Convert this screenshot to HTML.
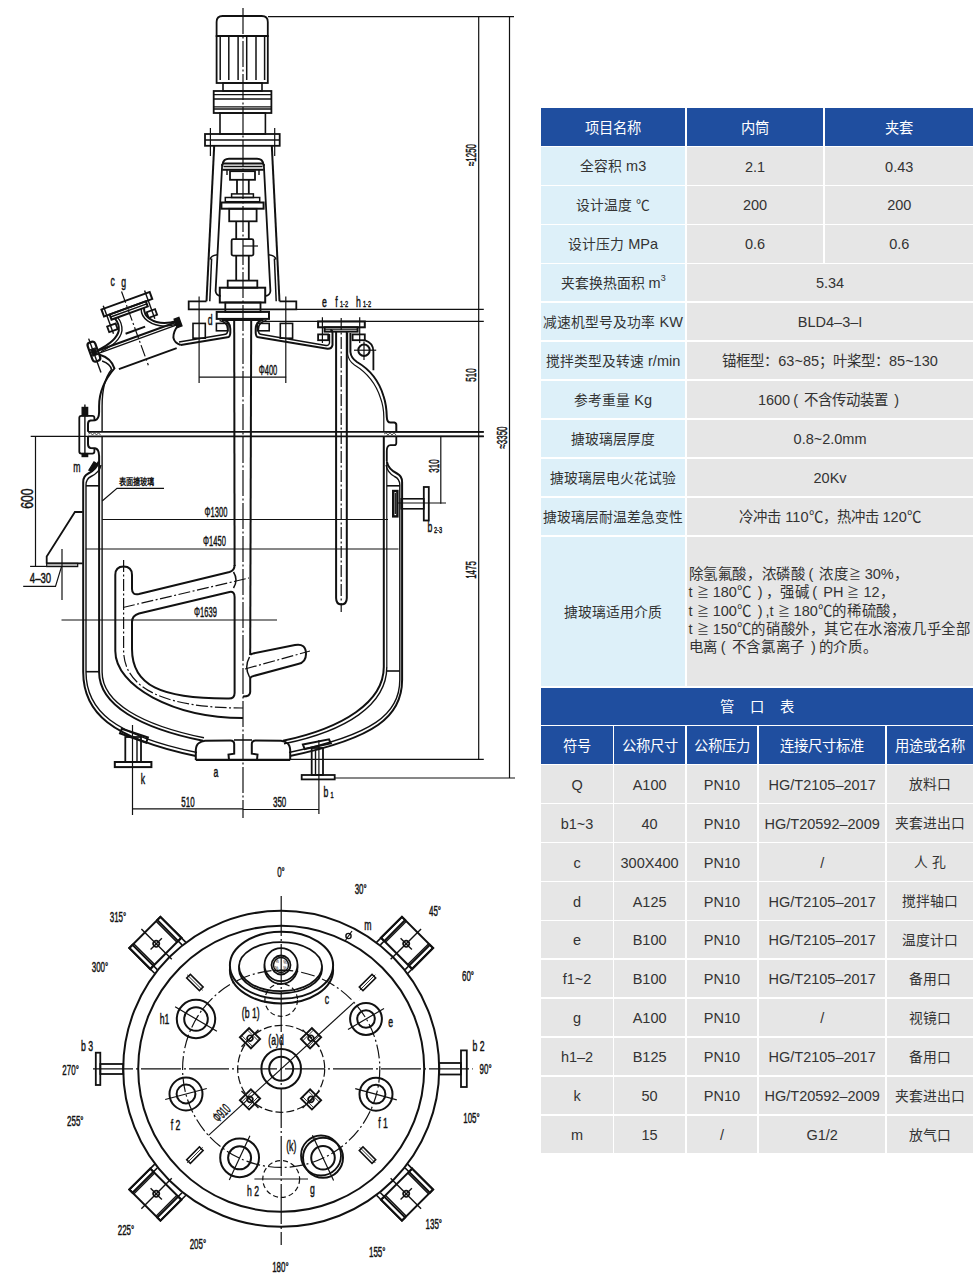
<!DOCTYPE html>
<html lang="zh-CN"><head><meta charset="utf-8">
<style>
html,body{margin:0;padding:0;background:#fff;}
body{width:976px;height:1281px;position:relative;overflow:hidden;font-family:"Liberation Sans",sans-serif;}
.c{position:absolute;display:flex;align-items:center;justify-content:center;text-align:center;white-space:nowrap;line-height:1;}
.z{font-size:13.8px;}
.pl{display:inline-block;width:14px;text-align:left;padding-left:3px;box-sizing:border-box;}
.pr{display:inline-block;width:14px;text-align:right;padding-right:3px;box-sizing:border-box;}
.ge{font-size:12px;}
.c{padding-top:2px;box-sizing:border-box;}
.c sup{font-size:9px;vertical-align:7px;line-height:0;}
.ml .z{letter-spacing:0.6px;}
.ml{position:absolute;left:1.8px;height:18.3px;line-height:18.3px;font-size:14.5px;color:#333;white-space:nowrap;}
svg{position:absolute;left:0;top:0;}
svg text{font-family:"Liberation Sans",sans-serif;fill:#111;}
</style></head><body>
<svg width="976" height="1281" viewBox="0 0 976 1281" stroke="#111" fill="none" stroke-linecap="butt">
<path d="M216.6,36 L216.6,22 Q216.6,16 222.6,16 L261.8,16 Q267.8,16 267.8,22 L267.8,36 Z" stroke-width="1.8" fill="none" />
<rect x="216.6" y="36.0" width="51.2" height="47.0" rx="0" fill="none" stroke-width="1.8" />
<line x1="220.2" y1="37.0" x2="220.2" y2="80.0" stroke-width="1.5" />
<line x1="228.8" y1="37.0" x2="228.8" y2="80.0" stroke-width="1.5" />
<line x1="238.1" y1="37.0" x2="238.1" y2="80.0" stroke-width="1.5" />
<line x1="246.7" y1="37.0" x2="246.7" y2="80.0" stroke-width="1.5" />
<line x1="256.0" y1="37.0" x2="256.0" y2="80.0" stroke-width="1.5" />
<line x1="264.6" y1="37.0" x2="264.6" y2="80.0" stroke-width="1.5" />
<rect x="223.0" y="83.0" width="39.0" height="8.0" rx="0" fill="none" stroke-width="1.6" />
<rect x="213.7" y="91.0" width="57.7" height="22.0" rx="0" fill="none" stroke-width="1.8" />
<line x1="213.7" y1="94.7" x2="271.4" y2="94.7" stroke-width="1.3" />
<line x1="213.7" y1="99.0" x2="271.4" y2="99.0" stroke-width="1.3" />
<line x1="213.7" y1="106.9" x2="271.4" y2="106.9" stroke-width="1.3" />
<line x1="213.7" y1="109.0" x2="271.4" y2="109.0" stroke-width="1.3" />
<rect x="220.0" y="113.0" width="45.4" height="21.0" rx="0" fill="none" stroke-width="1.6" />
<rect x="205.0" y="134.0" width="74.7" height="11.8" rx="0" fill="none" stroke-width="1.8" />
<line x1="205.0" y1="140.0" x2="279.7" y2="140.0" stroke-width="1.3" />
<line x1="210.4" y1="128.0" x2="210.4" y2="156.0" stroke-width="1.2" />
<line x1="274.7" y1="128.0" x2="274.7" y2="156.0" stroke-width="1.2" />
<line x1="214.2" y1="145.8" x2="206.5" y2="301.3" stroke-width="2.0" />
<path d="M222.2,164 L215.6,291 Q216,295.5 220.7,296" stroke-width="1.8" fill="none" />
<path d="M210,259.5 Q211,255.5 217.3,254.8" stroke-width="1.5" fill="none" />
<line x1="211.6" y1="258.5" x2="209.8" y2="301.3" stroke-width="1.5" />
<line x1="271.8" y1="145.8" x2="279.5" y2="301.3" stroke-width="2.0" />
<path d="M263.8,164 L270.4,291 Q270.0,295.5 265.3,296" stroke-width="1.8" fill="none" />
<path d="M276.0,259.5 Q275.0,255.5 268.7,254.8" stroke-width="1.5" fill="none" />
<line x1="274.4" y1="258.5" x2="276.2" y2="301.3" stroke-width="1.5" />
<path d="M222.2,166 L222.6,164 Q223.5,158.75 229,158.75 L257,158.75 Q262.5,158.75 263.4,164 L263.8,166" stroke-width="2.0" fill="none" />
<line x1="222.6" y1="163.4" x2="263.4" y2="163.4" stroke-width="2.0" />
<line x1="222.3" y1="169.7" x2="263.7" y2="169.7" stroke-width="2.0" />
<line x1="223.5" y1="166.5" x2="262.5" y2="166.5" stroke-width="1.4" />
<line x1="227.0" y1="169.7" x2="227.0" y2="175.0" stroke-width="1.4" />
<line x1="259.0" y1="169.7" x2="259.0" y2="175.0" stroke-width="1.4" />
<rect x="230.0" y="171.2" width="25.0" height="8.6" rx="0" fill="none" stroke-width="1.8" />
<line x1="237.0" y1="179.8" x2="237.0" y2="193.9" stroke-width="1.8" />
<line x1="248.8" y1="179.8" x2="248.8" y2="193.9" stroke-width="1.8" />
<rect x="231.6" y="193.9" width="21.8" height="3.6" rx="0" fill="none" stroke-width="1.5" />
<rect x="225.3" y="197.5" width="34.4" height="4.2" rx="0" fill="none" stroke-width="1.5" />
<rect x="221.4" y="202.5" width="42.2" height="6.2" rx="0" fill="none" stroke-width="2.0" />
<rect x="229.2" y="208.8" width="27.4" height="12.5" rx="0" fill="none" stroke-width="1.8" />
<line x1="236.2" y1="221.2" x2="236.2" y2="239.2" stroke-width="1.8" />
<line x1="248.8" y1="221.2" x2="248.8" y2="239.2" stroke-width="1.8" />
<rect x="231.6" y="239.2" width="21.8" height="16.4" rx="1.5" fill="none" stroke-width="1.8" />
<line x1="243.0" y1="246.0" x2="258.0" y2="246.0" stroke-width="1.2" />
<line x1="236.2" y1="255.6" x2="236.2" y2="280.6" stroke-width="1.8" />
<line x1="248.8" y1="255.6" x2="248.8" y2="280.6" stroke-width="1.8" />
<rect x="227.7" y="280.6" width="29.6" height="7.1" rx="0" fill="none" stroke-width="1.8" />
<rect x="219.8" y="287.7" width="45.4" height="14.8" rx="0" fill="none" stroke-width="2.0" />
<path d="M206.5,301.3 L188.7,301.3 L188.7,309.3 L296.3,309.3 L296.3,301.3 L279.5,301.3" stroke-width="1.8" fill="none" />
<rect x="225.3" y="302.5" width="35.2" height="9.4" rx="0" fill="none" stroke-width="1.8" />
<rect x="216.7" y="311.9" width="52.3" height="7.0" rx="0" fill="none" stroke-width="2.0" />
<line x1="221.9" y1="319.8" x2="262.5" y2="319.8" stroke-width="2.4" />
<line x1="199.1" y1="296.4" x2="199.1" y2="383.0" stroke-width="1.2" />
<line x1="285.8" y1="296.4" x2="285.8" y2="383.0" stroke-width="1.2" />
<rect x="193.0" y="323.4" width="12.3" height="14.8" rx="0" fill="none" stroke-width="1.6" />
<rect x="280.3" y="323.4" width="12.3" height="14.8" rx="0" fill="none" stroke-width="1.6" />
<rect x="216.4" y="323.4" width="11.6" height="7.4" rx="0" fill="none" stroke-width="1.6" />
<rect x="257.5" y="323.4" width="11.7" height="7.4" rx="0" fill="none" stroke-width="1.6" />
<line x1="243.0" y1="8.0" x2="243.0" y2="818.0" stroke-width="1.2" stroke-dasharray="26 2.5 2 2.5"/>
<line x1="268.0" y1="16.6" x2="514.0" y2="16.6" stroke-width="1.2" />
<line x1="478.7" y1="16.6" x2="478.7" y2="759.3" stroke-width="1.2" />
<line x1="509.5" y1="16.6" x2="509.5" y2="778.0" stroke-width="1.2" />
<line x1="296.3" y1="309.3" x2="483.8" y2="309.3" stroke-width="1.2" />
<line x1="263.7" y1="321.3" x2="483.8" y2="321.3" stroke-width="1.2" />
<line x1="386.0" y1="432.0" x2="483.8" y2="432.0" stroke-width="1.2" />
<line x1="386.0" y1="436.3" x2="483.8" y2="436.3" stroke-width="1.2" />
<text transform="translate(470.6,155.0) rotate(-90) scale(0.55,1)" font-size="14.5" text-anchor="middle" dominant-baseline="central" stroke="#111" stroke-width="0.45" >≈1250</text>
<text transform="translate(470.0,375.0) rotate(-90) scale(0.55,1)" font-size="14.5" text-anchor="middle" dominant-baseline="central" stroke="#111" stroke-width="0.45" >510</text>
<text transform="translate(501.0,437.5) rotate(-90) scale(0.55,1)" font-size="14.5" text-anchor="middle" dominant-baseline="central" stroke="#111" stroke-width="0.45" >≈3350</text>
<text transform="translate(470.0,570.0) rotate(-90) scale(0.55,1)" font-size="14.5" text-anchor="middle" dominant-baseline="central" stroke="#111" stroke-width="0.45" >1475</text>
<text transform="translate(433.8,466.0) rotate(-90) scale(0.55,1)" font-size="14.5" text-anchor="middle" dominant-baseline="central" stroke="#111" stroke-width="0.45" >310</text>
<path d="M222.5,320 Q230.3,321 230.3,329 L230.3,333 Q230,337.3 227.4,337.3 L180.8,345" stroke-width="2.0" fill="none" />
<path d="M219.5,320.5 Q227.5,322 227.5,329 L227.5,332 Q227,334.5 224,334.5 L179,342" stroke-width="1.4" fill="none" />
<path d="M263.5,320 Q255.7,321 255.7,329 L255.7,333 Q256,337.3 258.6,337.3 L327.5,348.8 Q331.8,349 332.5,345 L332.5,333 Q332.5,330 330.3,330" stroke-width="2.0" fill="none" />
<path d="M266.5,320.5 Q258.5,322 258.5,329 L258.5,332 Q259,334.5 262,334.5 L326,345.5 Q329,345.8 329.5,343 L329.5,334" stroke-width="1.4" fill="none" />
<path d="M99.7,354.8 Q111,358 114.4,368.4 C107,377 99.1,390 99.1,406 L99.1,412 Q99,419.5 95,420.2 L90.5,420.6 Q88,421 88,424 L88,431.8" stroke-width="2.0" fill="none" />
<path d="M102.1,361 Q110.5,364 111.5,369.5 C104.5,378 102.1,391 102.1,406 L102.1,431.8" stroke-width="1.4" fill="none" />
<path d="M88,436.3 L88,444 Q88,447.5 90.5,447.9 L95,448.3 Q99,449 99.1,456 L99.1,462" stroke-width="2.0" fill="none" />
<line x1="102.1" y1="436.3" x2="102.1" y2="672.0" stroke-width="1.4" />
<path d="M94.4,421 L94.4,417.8 Q94.4,415.8 92.4,415.8 L81.3,415.8 Q79.3,415.8 79.3,417.8 L79.3,451.6 Q79.3,453.6 81.3,453.6 L92.4,453.6 Q94.4,453.6 94.4,451.6 L94.4,448" stroke-width="1.8" fill="none" />
<line x1="84.9" y1="404.6" x2="84.9" y2="457.0" stroke-width="1.4" />
<rect x="82.2" y="407.5" width="5.4" height="8.3" rx="0" fill="#111" stroke-width="1.4" />
<rect x="82.2" y="453.6" width="5.4" height="2.9" rx="0" fill="#111" stroke-width="1.4" />
<path d="M350.4,333 L350.4,352 Q351,358 357,362 C369,369 379,381 383.5,396 Q386.5,405 386.8,417 Q387,422.6 390.5,422.6 L394.3,422.6 Q396.3,423 396.3,425 L396.3,431.8" stroke-width="2.0" fill="none" />
<path d="M347.6,333 L347.6,354 Q348.5,361 354.5,365 C366,372 376,384 380.5,398 Q383.8,407 383.8,417 L383.8,431.8" stroke-width="1.2" fill="none" />
<path d="M396.3,436.3 L396.3,443 Q396.3,445.2 394.3,445.2 L390.5,445.2 Q386.8,445.2 386.8,451 L386.8,461" stroke-width="1.8" fill="none" />
<line x1="383.8" y1="436.3" x2="383.8" y2="667.0" stroke-width="2.0" />
<path d="M88.5,434 L90.5,432.8 L92.5,435 L94.5,432.8 L96.5,435 L98.5,432.8 L100.5,435" stroke-width="0.7" fill="none" />
<path d="M384,434 L386,432.8 L388,435 L390,432.8 L392,435 L394,432.8 L396,435" stroke-width="0.7" fill="none" />
<line x1="88.0" y1="431.8" x2="483.8" y2="431.8" stroke-width="1.8" />
<line x1="88.0" y1="436.3" x2="483.8" y2="436.3" stroke-width="1.8" />
<line x1="30.7" y1="436.4" x2="88.0" y2="436.4" stroke-width="1.2" />
<line x1="99.1" y1="462.0" x2="99.1" y2="672.0" stroke-width="2.0" />
<path d="M98.4,461.6 C97.3,468 93.3,471 88.3,473.5 Q83.2,476 83.2,482 L83.2,672 C83.2,712 110,738 195.8,756" stroke-width="2.0" fill="none" />
<path d="M101,465 C100,471 96,474 91,476.5 Q86,479 86,485 L86,672 C86,710 113,735 197,752.5" stroke-width="1.4" fill="none" />
<line x1="86.0" y1="485.8" x2="99.1" y2="485.8" stroke-width="1.6" />
<line x1="86.0" y1="671.7" x2="99.1" y2="671.7" stroke-width="1.6" />
<path d="M89,470 L94,462 L97,464 L92,471 Z" stroke-width="1.4" fill="#111" />
<path d="M386.9,461.6 C388,468 392,471 397,473.5 Q402.1,476 402.1,482 L402.1,680 C402.1,716 376,738 290,756" stroke-width="2.0" fill="none" />
<path d="M386.1,465 C387,471 390,474 394.5,476.5 Q399.8,479 399.8,485 L399.8,680 C399.8,714 373,735 289,752.5" stroke-width="1.4" fill="none" />
<line x1="386.8" y1="485.8" x2="399.8" y2="485.8" stroke-width="1.6" />
<line x1="386.8" y1="671.0" x2="399.8" y2="671.0" stroke-width="1.6" />
<line x1="386.8" y1="461.0" x2="386.8" y2="667.0" stroke-width="1.2" />
<path d="M99.1,672 C99.1,705 140,728 203,740.8" stroke-width="2.0" fill="none" />
<path d="M102.1,672 C102.1,703 142,725 204,737.8" stroke-width="1.4" fill="none" />
<path d="M383.8,667 C383.8,702 343,728 283,740.8" stroke-width="2.0" fill="none" />
<path d="M386.8,667 C386.8,705 346,731 284,743.8" stroke-width="1.4" fill="none" />
<path d="M195.8,760 L195.8,750 Q196,745 199,743 Q201,741.3 205,740.8 L230.3,740.4 Q234.2,740.4 234.2,744 L234.2,753.7 L228.5,754.5 L229,760" stroke-width="2.0" fill="none" />
<path d="M290.2,760 L290.2,750 Q290.0,745 287.0,743 Q285.0,741.3 281.0,740.8 L255.7,740.4 Q251.8,740.4 251.8,744 L251.8,753.7 L257.5,754.5 L257.0,760" stroke-width="2.0" fill="none" />
<line x1="195.8" y1="759.3" x2="483.8" y2="759.3" stroke-width="1.2" />
<line x1="195.8" y1="760.0" x2="290.2" y2="760.0" stroke-width="2.0" />
<line x1="234.0" y1="740.0" x2="252.0" y2="740.0" stroke-width="1.6" />
<line x1="234.2" y1="320.0" x2="234.6" y2="566.0" stroke-width="2.0" />
<line x1="234.6" y1="597.0" x2="234.6" y2="693.0" stroke-width="2.0" />
<line x1="251.2" y1="320.0" x2="250.2" y2="655.0" stroke-width="2.0" />
<line x1="250.2" y1="677.0" x2="250.2" y2="692.0" stroke-width="2.0" />
<path d="M250.2,692 Q250.2,696.5 243,696.5" stroke-width="2.0" fill="none" />
<path d="M233.5,572 Q238.5,580 233.5,588" stroke-width="1.5" fill="none" />
<path d="M115.3,575 Q115.3,566.5 123.6,566.5 Q132,566.5 132,575 L132,589 Q132,595.5 139,594 L229.5,572 Q234.6,570.5 234.6,565" stroke-width="2.0" fill="none" />
<path d="M234.6,597 Q234.6,591 229.5,592 L139,613.5 Q132,615.5 132,622 L132,649 C132,685 160,699 229,698.6 Q234.6,698.5 234.6,693" stroke-width="2.0" fill="none" />
<path d="M115.3,575 L115.3,651 C115.3,686 173,718 243,718" stroke-width="2.0" fill="none" />
<path d="M123.6,560 L123.6,650 C123.6,690 168,708 243,708" stroke-width="1.2" fill="none" stroke-dasharray="12 2.5 2 2.5"/>
<line x1="123.0" y1="607.5" x2="249.0" y2="578.0" stroke-width="1.2" stroke-dasharray="12 2.5 2 2.5"/>
<path d="M250.2,655 Q251,653.8 253,653.5 L295,645 Q306,643 306,654 Q306,662.5 298,664 L253.5,676 Q251,676.5 250.2,678" stroke-width="2.0" fill="none" />
<line x1="245.0" y1="669.0" x2="310.0" y2="651.0" stroke-width="1.2" stroke-dasharray="12 2.5 2 2.5"/>
<path d="M249.5,657 Q244,667 249.5,677" stroke-width="1.5" fill="none" />
<line x1="336.1" y1="331.0" x2="336.1" y2="598.0" stroke-width="2.0" />
<line x1="346.8" y1="331.0" x2="346.8" y2="598.0" stroke-width="2.0" />
<path d="M336.1,598 Q336.1,604.4 341.4,604.4 Q346.8,604.4 346.8,598" stroke-width="2.0" fill="none" />
<line x1="341.2" y1="318.0" x2="341.2" y2="612.0" stroke-width="1.2" stroke-dasharray="12 2.5 2 2.5"/>
<rect x="318.1" y="321.5" width="46.7" height="5.8" rx="0" fill="none" stroke-width="2.0" />
<rect x="324.6" y="327.3" width="33.0" height="4.3" rx="0" fill="none" stroke-width="2.0" />
<line x1="324.6" y1="329.5" x2="357.6" y2="329.5" stroke-width="0.8" />
<rect x="318.1" y="334.4" width="10.1" height="5.8" rx="0" fill="none" stroke-width="1.8" />
<rect x="352.6" y="334.4" width="12.2" height="5.8" rx="0" fill="none" stroke-width="1.8" />
<line x1="322.4" y1="317.2" x2="322.4" y2="343.0" stroke-width="1.2" />
<line x1="359.7" y1="317.2" x2="359.7" y2="343.0" stroke-width="1.2" />
<path d="M364.8,340.2 Q373.4,343 373.4,351.6 L373.4,370.3" stroke-width="1.8" fill="none" />
<circle cx="364.0" cy="350.2" r="5.7" stroke-width="2.0" fill="none" />
<line x1="354.0" y1="350.2" x2="376.2" y2="350.2" stroke-width="1.2" />
<line x1="364.0" y1="341.6" x2="364.0" y2="360.0" stroke-width="1.2" />
<text transform="translate(324.5,301.7) scale(0.6,1)" font-size="14.5" text-anchor="middle" dominant-baseline="central" stroke="#111" stroke-width="0.45" >e</text>
<text transform="translate(336.5,301.7) scale(0.6,1)" font-size="14.5" text-anchor="middle" dominant-baseline="central" stroke="#111" stroke-width="0.45" >f</text>
<text transform="translate(344.0,303.5) scale(0.62,1)" font-size="9" text-anchor="middle" dominant-baseline="central" stroke="#111" stroke-width="0.45" >1-2</text>
<text transform="translate(358.5,301.7) scale(0.6,1)" font-size="14.5" text-anchor="middle" dominant-baseline="central" stroke="#111" stroke-width="0.45" >h</text>
<text transform="translate(367.0,303.5) scale(0.62,1)" font-size="9" text-anchor="middle" dominant-baseline="central" stroke="#111" stroke-width="0.45" >1-2</text>
<text transform="translate(210.2,319.8) scale(0.6,1)" font-size="14.5" text-anchor="middle" dominant-baseline="central" stroke="#111" stroke-width="0.45" >d</text>
<line x1="199.1" y1="377.2" x2="286.2" y2="377.2" stroke-width="1.2" />
<text transform="translate(268.0,369.8) scale(0.52,1)" font-size="14.5" text-anchor="middle" dominant-baseline="central" stroke="#111" stroke-width="0.45" >Φ400</text>
<g transform="translate(137.6,335.7) rotate(-20)">
<rect x="-25.0" y="-37.0" width="51.3" height="7.5" rx="0" fill="none" stroke-width="2.0" />
<rect x="-19.0" y="-29.5" width="38.5" height="5.5" rx="0" fill="none" stroke-width="2.0" />
<line x1="-19.0" y1="-26.8" x2="19.5" y2="-26.8" stroke-width="1.4" />
<rect x="-25.5" y="-19.0" width="9.0" height="6.0" rx="0" fill="none" stroke-width="1.8" />
<rect x="16.5" y="-19.0" width="9.0" height="6.0" rx="0" fill="none" stroke-width="1.8" />
<line x1="-22.0" y1="-40.0" x2="-22.0" y2="-10.0" stroke-width="1.4" />
<line x1="22.0" y1="-40.0" x2="22.0" y2="-10.0" stroke-width="1.4" />
<path d="M-15.5,-24 Q-13,-17 -16,-11 Q-22,-2 -42,0" stroke-width="2.0" fill="none" />
<path d="M-12.5,-24 Q-10,-17 -13,-10 Q-19,0.5 -40,2.5" stroke-width="1.4" fill="none" />
<path d="M15.5,-24 Q13,-17 17,-12 Q25,-1 42,-0.5" stroke-width="2.0" fill="none" />
<path d="M12.5,-24 Q10,-17 14.5,-10.5 Q23,1.5 40,2.5" stroke-width="1.4" fill="none" />
<line x1="-42.0" y1="0.5" x2="42.0" y2="0.5" stroke-width="2.0" />
<line x1="-42.0" y1="3.2" x2="42.0" y2="3.2" stroke-width="1.4" />
<rect x="40.0" y="-3.0" width="5.0" height="9.0" rx="0" fill="#111" stroke-width="1.4" />
<path d="M42,4 Q35,8 33,14 Q32,19 37.4,23.5" stroke-width="2.0" fill="none" />
<line x1="0.0" y1="-47.0" x2="0.0" y2="31.4" stroke-width="1.2" stroke-dasharray="12 2.5 2 2.5"/>
<line x1="-10.6" y1="-6.0" x2="10.2" y2="-6.0" stroke-width="2.0" />
<line x1="-29.0" y1="25.0" x2="32.5" y2="25.0" stroke-width="2.0" />
<rect x="-50.5" y="-10.0" width="8.0" height="20.0" rx="3" fill="#fff" stroke-width="2.2" />
<rect x="-49.0" y="-3.0" width="5.0" height="7.0" rx="0" fill="#111" stroke-width="1" />
<line x1="-47.0" y1="-14.0" x2="-47.0" y2="22.0" stroke-width="1.4" />
</g>
<text transform="translate(112.6,281.0) scale(0.6,1)" font-size="14.5" text-anchor="middle" dominant-baseline="central" stroke="#111" stroke-width="0.45" >c</text>
<text transform="translate(123.6,282.0) scale(0.6,1)" font-size="14.5" text-anchor="middle" dominant-baseline="central" stroke="#111" stroke-width="0.45" >g</text>
<text transform="translate(76.8,467.0) scale(0.6,1)" font-size="14.5" text-anchor="middle" dominant-baseline="central" stroke="#111" stroke-width="0.45" >m</text>
<line x1="35.5" y1="436.4" x2="35.5" y2="566.4" stroke-width="1.2" />
<line x1="30.1" y1="566.4" x2="46.7" y2="566.4" stroke-width="1.2" />
<text transform="translate(27.0,498.6) rotate(-90) scale(0.72,1)" font-size="17" text-anchor="middle" dominant-baseline="central" stroke="#111" stroke-width="0.45" >600</text>
<path d="M82.7,512 L74.9,512 L46.7,556.4 L46.7,563.8" stroke-width="1.8" fill="none" />
<line x1="46.7" y1="563.3" x2="82.7" y2="563.3" stroke-width="1.8" />
<rect x="46.7" y="563.3" width="31.0" height="3.3" rx="0" fill="#aaa" stroke-width="1.2" />
<line x1="62.0" y1="549.0" x2="62.0" y2="600.0" stroke-width="1.2" />
<text transform="translate(40.5,578.5) scale(0.66,1)" font-size="14.5" text-anchor="middle" dominant-baseline="central" stroke="#111" stroke-width="0.45" >4–30</text>
<path d="M23.2,586.4 L55.5,586.4 L61.5,566.6" stroke-width="1.2" fill="none" />
<line x1="102.2" y1="519.5" x2="388.0" y2="519.5" stroke-width="1.2" />
<line x1="85.8" y1="549.0" x2="398.5" y2="549.0" stroke-width="1.2" />
<line x1="61.5" y1="620.0" x2="277.0" y2="620.0" stroke-width="1.2" />
<text transform="translate(216.0,512.0) scale(0.52,1)" font-size="14.5" text-anchor="middle" dominant-baseline="central" stroke="#111" stroke-width="0.45" >Φ1300</text>
<text transform="translate(214.5,541.0) scale(0.52,1)" font-size="14.5" text-anchor="middle" dominant-baseline="central" stroke="#111" stroke-width="0.45" >Φ1450</text>
<text transform="translate(205.5,612.0) scale(0.52,1)" font-size="14.5" text-anchor="middle" dominant-baseline="central" stroke="#111" stroke-width="0.45" >Φ1639</text>
<path d="M102.2,501 L117,488.4 L164,488.4" stroke-width="1.2" fill="none" />
<text transform="translate(136.5,482) scale(0.8,1)" font-size="9" text-anchor="middle" dominant-baseline="central" stroke="none" font-weight="bold">表面搪玻璃</text>
<rect x="393.2" y="491.0" width="4.2" height="25.4" rx="0" fill="none" stroke-width="2.4" />
<line x1="395.3" y1="493.0" x2="395.3" y2="514.0" stroke-width="1.2" />
<rect x="401.2" y="498.8" width="22.6" height="10.0" rx="0" fill="none" stroke-width="1.6" />
<rect x="423.8" y="487.0" width="5.0" height="33.5" rx="0" fill="none" stroke-width="1.8" />
<line x1="440.8" y1="436.3" x2="440.8" y2="503.8" stroke-width="1.2" />
<line x1="398.0" y1="503.0" x2="446.0" y2="503.0" stroke-width="1.2" />
<text transform="translate(430.0,527.5) scale(0.6,1)" font-size="14.5" text-anchor="middle" dominant-baseline="central" stroke="#111" stroke-width="0.45" >b</text>
<text transform="translate(438.0,530.0) scale(0.62,1)" font-size="9" text-anchor="middle" dominant-baseline="central" stroke="#111" stroke-width="0.45" >2-3</text>
<path d="M121.8,728.8 L147.9,737.5 L146.2,742.8 L120,733.3 Z" stroke-width="2.0" fill="none" />
<rect x="125.3" y="737.0" width="15.7" height="25.0" rx="0" fill="none" stroke-width="1.8" />
<line x1="137.0" y1="740.0" x2="137.0" y2="762.0" stroke-width="1.4" />
<rect x="114.8" y="762.0" width="36.6" height="5.1" rx="0" fill="none" stroke-width="2.0" />
<line x1="132.5" y1="725.0" x2="132.5" y2="815.0" stroke-width="1.2" />
<line x1="132.5" y1="808.8" x2="243.0" y2="808.8" stroke-width="1.2" />
<text transform="translate(143.0,779.0) scale(0.6,1)" font-size="14.5" text-anchor="middle" dominant-baseline="central" stroke="#111" stroke-width="0.45" >k</text>
<text transform="translate(216.0,772.0) scale(0.6,1)" font-size="14.5" text-anchor="middle" dominant-baseline="central" stroke="#111" stroke-width="0.45" >a</text>
<text transform="translate(188.0,801.0) scale(0.55,1)" font-size="14.5" text-anchor="middle" dominant-baseline="central" stroke="#111" stroke-width="0.45" >510</text>
<path d="M302.9,744.5 L329,739.3 L330.8,743.4 L304.7,749 Z" stroke-width="2.0" fill="none" />
<rect x="311.7" y="748.0" width="11.3" height="27.0" rx="0" fill="none" stroke-width="1.8" />
<line x1="315.5" y1="750.0" x2="315.5" y2="775.0" stroke-width="1.4" />
<rect x="301.7" y="775.0" width="33.0" height="4.4" rx="0" fill="none" stroke-width="1.8" />
<line x1="334.7" y1="778.0" x2="515.0" y2="778.0" stroke-width="1.2" />
<line x1="318.9" y1="740.0" x2="318.9" y2="814.0" stroke-width="1.2" />
<line x1="243.0" y1="809.5" x2="318.9" y2="809.5" stroke-width="1.2" />
<text transform="translate(279.6,801.0) scale(0.55,1)" font-size="14.5" text-anchor="middle" dominant-baseline="central" stroke="#111" stroke-width="0.45" >350</text>
<text transform="translate(326.0,792.0) scale(0.6,1)" font-size="14.5" text-anchor="middle" dominant-baseline="central" stroke="#111" stroke-width="0.45" >b</text>
<text transform="translate(332.0,795.0) scale(0.62,1)" font-size="9" text-anchor="middle" dominant-baseline="central" stroke="#111" stroke-width="0.45" >1</text>

<circle cx="281.2" cy="1068.8" r="158.0" stroke-width="2.0" fill="none" />
<circle cx="281.2" cy="1068.8" r="143.0" stroke-width="2.0" fill="none" />
<ellipse cx="281.5" cy="970.0" rx="51.6" ry="33.5" stroke-width="2.0" fill="none" />
<ellipse cx="281.5" cy="965.3" rx="51.6" ry="33.5" stroke-width="2.0" fill="#fff" />
<ellipse cx="280.5" cy="969.0" rx="41.5" ry="24.5" stroke-width="1.8" fill="none" />
<ellipse cx="280.5" cy="966.6" rx="41.5" ry="24.5" stroke-width="1.8" fill="#fff" />
<circle cx="281.0" cy="967.5" r="16.5" stroke-width="1.8" fill="#fff" />
<circle cx="281.0" cy="964.7" r="16.5" stroke-width="1.8" fill="#fff" />
<circle cx="281.0" cy="965.0" r="9.5" stroke-width="1.8" fill="none" />
<circle cx="281.0" cy="965.0" r="7.5" stroke-width="1.4" fill="none" />
<line x1="274.0" y1="970.5" x2="288.0" y2="970.5" stroke-width="1.4" />
<text transform="translate(277,961) scale(0.8,1)" font-size="5" text-anchor="middle" dominant-baseline="central" stroke="none">%</text><text transform="translate(285,962.5) scale(0.8,1)" font-size="5" text-anchor="middle" dominant-baseline="central" stroke="none">%</text><text transform="translate(276.5,968) scale(0.8,1)" font-size="5" text-anchor="middle" dominant-baseline="central" stroke="none">%</text><text transform="translate(285,968.5) scale(0.8,1)" font-size="5" text-anchor="middle" dominant-baseline="central" stroke="none">%</text><line x1="281.2" y1="896.0" x2="281.2" y2="1245.0" stroke-width="1.2" stroke-dasharray="40 3 2 3"/>
<line x1="93.0" y1="1068.8" x2="472.7" y2="1068.8" stroke-width="1.2" stroke-dasharray="40 3 2 3"/>
<circle cx="281.2" cy="1068.8" r="98.6" stroke-width="1.2" fill="none" stroke-dasharray="14 3 2 3"/>
<circle cx="281.2" cy="1068.8" r="43.5" stroke-width="1.2" fill="none" stroke-dasharray="8 3"/>
<circle cx="281.2" cy="1000.0" r="16.3" stroke-width="1.2" fill="none" stroke-dasharray="5 3"/>
<circle cx="281.2" cy="1179.0" r="18.4" stroke-width="1.2" fill="none" stroke-dasharray="5 3"/>
<line x1="254.4" y1="1179.0" x2="308.0" y2="1179.0" stroke-width="1.2" />
<circle cx="196.0" cy="1019.0" r="19.2" stroke-width="2.0" fill="none" />
<circle cx="196.0" cy="1019.0" r="11.8" stroke-width="2.0" fill="none" />
<line x1="216.9" y1="1031.2" x2="175.1" y2="1006.8" stroke-width="1.2" />
<circle cx="366.0" cy="1019.0" r="15.9" stroke-width="2.0" fill="none" />
<circle cx="366.0" cy="1019.0" r="8.8" stroke-width="2.0" fill="none" />
<line x1="348.0" y1="1029.6" x2="384.0" y2="1008.4" stroke-width="1.2" />
<circle cx="186.0" cy="1094.0" r="16.5" stroke-width="2.0" fill="none" />
<circle cx="186.0" cy="1094.0" r="9.4" stroke-width="2.0" fill="none" />
<line x1="206.8" y1="1088.5" x2="165.2" y2="1099.5" stroke-width="1.2" />
<circle cx="376.0" cy="1094.2" r="16.5" stroke-width="2.0" fill="none" />
<circle cx="376.0" cy="1094.2" r="9.4" stroke-width="2.0" fill="none" />
<line x1="355.2" y1="1088.6" x2="396.8" y2="1099.8" stroke-width="1.2" />
<circle cx="239.6" cy="1157.8" r="19.4" stroke-width="2.0" fill="none" />
<circle cx="239.6" cy="1157.8" r="11.5" stroke-width="2.0" fill="none" />
<line x1="249.9" y1="1135.7" x2="229.3" y2="1179.9" stroke-width="1.2" />
<circle cx="323.0" cy="1157.8" r="20.0" stroke-width="2.0" fill="none" />
<circle cx="323.0" cy="1157.8" r="11.8" stroke-width="2.0" fill="none" />
<line x1="312.4" y1="1135.2" x2="333.6" y2="1180.4" stroke-width="1.2" />
<circle cx="321.0" cy="1155.5" r="20.0" stroke-width="1.8" fill="none" />
<circle cx="281.2" cy="1068.8" r="19.8" stroke-width="2.0" fill="none" />
<circle cx="281.2" cy="1068.8" r="12.0" stroke-width="2.0" fill="none" />
<line x1="208.5" y1="1135.4" x2="353.7" y2="1002.6" stroke-width="1.2" />
<text transform="translate(221.4,1113.0) rotate(-45) scale(0.52,1)" font-size="14.5" text-anchor="middle" dominant-baseline="central" stroke="#111" stroke-width="0.45" >Φ910</text>
<g transform="translate(250,1038.2) rotate(45)"><rect x="-7.8" y="-6.5" width="15.6" height="13.0" rx="0" fill="none" stroke-width="1.9" />
<line x1="-7.8" y1="-4.0" x2="7.8" y2="-4.0" stroke-width="0.8" />
<line x1="-7.8" y1="4.0" x2="7.8" y2="4.0" stroke-width="0.8" />
<circle cx="0.0" cy="0.0" r="2.8" stroke-width="1.6" fill="none" />
<line x1="0.0" y1="-12.0" x2="0.0" y2="12.0" stroke-width="1.4" />
</g>
<g transform="translate(311,1038.2) rotate(-45)"><rect x="-7.8" y="-6.5" width="15.6" height="13.0" rx="0" fill="none" stroke-width="1.9" />
<line x1="-7.8" y1="-4.0" x2="7.8" y2="-4.0" stroke-width="0.8" />
<line x1="-7.8" y1="4.0" x2="7.8" y2="4.0" stroke-width="0.8" />
<circle cx="0.0" cy="0.0" r="2.8" stroke-width="1.6" fill="none" />
<line x1="0.0" y1="-12.0" x2="0.0" y2="12.0" stroke-width="1.4" />
</g>
<g transform="translate(250,1099.4) rotate(-45)"><rect x="-7.8" y="-6.5" width="15.6" height="13.0" rx="0" fill="none" stroke-width="1.9" />
<line x1="-7.8" y1="-4.0" x2="7.8" y2="-4.0" stroke-width="0.8" />
<line x1="-7.8" y1="4.0" x2="7.8" y2="4.0" stroke-width="0.8" />
<circle cx="0.0" cy="0.0" r="2.8" stroke-width="1.6" fill="none" />
<line x1="0.0" y1="-12.0" x2="0.0" y2="12.0" stroke-width="1.4" />
</g>
<g transform="translate(311,1099.4) rotate(45)"><rect x="-7.8" y="-6.5" width="15.6" height="13.0" rx="0" fill="none" stroke-width="1.9" />
<line x1="-7.8" y1="-4.0" x2="7.8" y2="-4.0" stroke-width="0.8" />
<line x1="-7.8" y1="4.0" x2="7.8" y2="4.0" stroke-width="0.8" />
<circle cx="0.0" cy="0.0" r="2.8" stroke-width="1.6" fill="none" />
<line x1="0.0" y1="-12.0" x2="0.0" y2="12.0" stroke-width="1.4" />
</g>
<g transform="translate(367.5,982.5) rotate(45)"><rect x="-2.6" y="-9.0" width="5.2" height="18.0" rx="0" fill="none" stroke-width="1.6" />
<line x1="0.0" y1="-11.0" x2="0.0" y2="11.0" stroke-width="0.8" />
</g>
<g transform="translate(367.5,1155.1) rotate(135)"><rect x="-2.6" y="-9.0" width="5.2" height="18.0" rx="0" fill="none" stroke-width="1.6" />
<line x1="0.0" y1="-11.0" x2="0.0" y2="11.0" stroke-width="0.8" />
</g>
<g transform="translate(194.9,1155.1) rotate(225)"><rect x="-2.6" y="-9.0" width="5.2" height="18.0" rx="0" fill="none" stroke-width="1.6" />
<line x1="0.0" y1="-11.0" x2="0.0" y2="11.0" stroke-width="0.8" />
</g>
<g transform="translate(194.9,982.5) rotate(315)"><rect x="-2.6" y="-9.0" width="5.2" height="18.0" rx="0" fill="none" stroke-width="1.6" />
<line x1="0.0" y1="-11.0" x2="0.0" y2="11.0" stroke-width="0.8" />
</g>
<g transform="translate(406.2,943.8) rotate(45)"><rect x="-22.0" y="-16.0" width="44.0" height="29.6" rx="0" fill="#fff" stroke-width="2.0" />
<rect x="-22.0" y="-16.0" width="4.5" height="29.6" rx="0" fill="none" stroke-width="2.0" />
<rect x="17.5" y="-16.0" width="4.5" height="29.6" rx="0" fill="none" stroke-width="2.0" />
<line x1="-15.8" y1="-16.0" x2="-15.8" y2="13.6" stroke-width="1.4" />
<line x1="15.8" y1="-16.0" x2="15.8" y2="13.6" stroke-width="1.4" />
<path d="M-22,13.6 L-22,20 M22,13.6 L22,20 M-17.5,13.6 L-17.5,19 M17.5,13.6 L17.5,19" stroke-width="1.6" fill="none" />
<circle cx="0.0" cy="0.0" r="3.0" stroke-width="1.6" fill="none" />
<line x1="0.0" y1="-21.0" x2="0.0" y2="22.0" stroke-width="1.4" />
<line x1="-8.0" y1="0.0" x2="8.0" y2="0.0" stroke-width="1.4" />
</g>
<g transform="translate(406.2,1193.8) rotate(135)"><rect x="-22.0" y="-16.0" width="44.0" height="29.6" rx="0" fill="#fff" stroke-width="2.0" />
<rect x="-22.0" y="-16.0" width="4.5" height="29.6" rx="0" fill="none" stroke-width="2.0" />
<rect x="17.5" y="-16.0" width="4.5" height="29.6" rx="0" fill="none" stroke-width="2.0" />
<line x1="-15.8" y1="-16.0" x2="-15.8" y2="13.6" stroke-width="1.4" />
<line x1="15.8" y1="-16.0" x2="15.8" y2="13.6" stroke-width="1.4" />
<path d="M-22,13.6 L-22,20 M22,13.6 L22,20 M-17.5,13.6 L-17.5,19 M17.5,13.6 L17.5,19" stroke-width="1.6" fill="none" />
<circle cx="0.0" cy="0.0" r="3.0" stroke-width="1.6" fill="none" />
<line x1="0.0" y1="-21.0" x2="0.0" y2="22.0" stroke-width="1.4" />
<line x1="-8.0" y1="0.0" x2="8.0" y2="0.0" stroke-width="1.4" />
</g>
<g transform="translate(156.2,1193.8) rotate(225)"><rect x="-22.0" y="-16.0" width="44.0" height="29.6" rx="0" fill="#fff" stroke-width="2.0" />
<rect x="-22.0" y="-16.0" width="4.5" height="29.6" rx="0" fill="none" stroke-width="2.0" />
<rect x="17.5" y="-16.0" width="4.5" height="29.6" rx="0" fill="none" stroke-width="2.0" />
<line x1="-15.8" y1="-16.0" x2="-15.8" y2="13.6" stroke-width="1.4" />
<line x1="15.8" y1="-16.0" x2="15.8" y2="13.6" stroke-width="1.4" />
<path d="M-22,13.6 L-22,20 M22,13.6 L22,20 M-17.5,13.6 L-17.5,19 M17.5,13.6 L17.5,19" stroke-width="1.6" fill="none" />
<circle cx="0.0" cy="0.0" r="3.0" stroke-width="1.6" fill="none" />
<line x1="0.0" y1="-21.0" x2="0.0" y2="22.0" stroke-width="1.4" />
<line x1="-8.0" y1="0.0" x2="8.0" y2="0.0" stroke-width="1.4" />
</g>
<g transform="translate(156.2,943.8) rotate(315)"><rect x="-22.0" y="-16.0" width="44.0" height="29.6" rx="0" fill="#fff" stroke-width="2.0" />
<rect x="-22.0" y="-16.0" width="4.5" height="29.6" rx="0" fill="none" stroke-width="2.0" />
<rect x="17.5" y="-16.0" width="4.5" height="29.6" rx="0" fill="none" stroke-width="2.0" />
<line x1="-15.8" y1="-16.0" x2="-15.8" y2="13.6" stroke-width="1.4" />
<line x1="15.8" y1="-16.0" x2="15.8" y2="13.6" stroke-width="1.4" />
<path d="M-22,13.6 L-22,20 M22,13.6 L22,20 M-17.5,13.6 L-17.5,19 M17.5,13.6 L17.5,19" stroke-width="1.6" fill="none" />
<circle cx="0.0" cy="0.0" r="3.0" stroke-width="1.6" fill="none" />
<line x1="0.0" y1="-21.0" x2="0.0" y2="22.0" stroke-width="1.4" />
<line x1="-8.0" y1="0.0" x2="8.0" y2="0.0" stroke-width="1.4" />
</g>
<rect x="100.3" y="1064.0" width="22.9" height="10.0" rx="0" fill="none" stroke-width="1.8" />
<rect x="95.8" y="1052.7" width="4.5" height="32.3" rx="0" fill="none" stroke-width="1.8" />
<rect x="439.2" y="1063.0" width="21.8" height="11.5" rx="0" fill="none" stroke-width="1.8" />
<rect x="461.0" y="1050.4" width="5.8" height="36.6" rx="0" fill="none" stroke-width="1.8" />
<circle cx="348.5" cy="936.0" r="2.6" stroke-width="1.4" fill="none" />
<line x1="345.0" y1="941.0" x2="352.0" y2="931.0" stroke-width="1.2" />
<text transform="translate(281.0,871.0) scale(0.55,1)" font-size="14.5" text-anchor="middle" dominant-baseline="central" stroke="#111" stroke-width="0.45" >0°</text>
<text transform="translate(360.7,888.7) scale(0.55,1)" font-size="14.5" text-anchor="middle" dominant-baseline="central" stroke="#111" stroke-width="0.45" >30°</text>
<text transform="translate(435.0,910.7) scale(0.55,1)" font-size="14.5" text-anchor="middle" dominant-baseline="central" stroke="#111" stroke-width="0.45" >45°</text>
<text transform="translate(468.0,975.5) scale(0.55,1)" font-size="14.5" text-anchor="middle" dominant-baseline="central" stroke="#111" stroke-width="0.45" >60°</text>
<text transform="translate(485.6,1068.6) scale(0.55,1)" font-size="14.5" text-anchor="middle" dominant-baseline="central" stroke="#111" stroke-width="0.45" >90°</text>
<text transform="translate(471.5,1117.7) scale(0.55,1)" font-size="14.5" text-anchor="middle" dominant-baseline="central" stroke="#111" stroke-width="0.45" >105°</text>
<text transform="translate(433.8,1223.8) scale(0.55,1)" font-size="14.5" text-anchor="middle" dominant-baseline="central" stroke="#111" stroke-width="0.45" >135°</text>
<text transform="translate(377.2,1251.0) scale(0.55,1)" font-size="14.5" text-anchor="middle" dominant-baseline="central" stroke="#111" stroke-width="0.45" >155°</text>
<text transform="translate(280.4,1266.0) scale(0.55,1)" font-size="14.5" text-anchor="middle" dominant-baseline="central" stroke="#111" stroke-width="0.45" >180°</text>
<text transform="translate(197.9,1243.8) scale(0.55,1)" font-size="14.5" text-anchor="middle" dominant-baseline="central" stroke="#111" stroke-width="0.45" >205°</text>
<text transform="translate(126.0,1229.7) scale(0.55,1)" font-size="14.5" text-anchor="middle" dominant-baseline="central" stroke="#111" stroke-width="0.45" >225°</text>
<text transform="translate(75.3,1120.0) scale(0.55,1)" font-size="14.5" text-anchor="middle" dominant-baseline="central" stroke="#111" stroke-width="0.45" >255°</text>
<text transform="translate(70.6,1069.4) scale(0.55,1)" font-size="14.5" text-anchor="middle" dominant-baseline="central" stroke="#111" stroke-width="0.45" >270°</text>
<text transform="translate(100.0,966.0) scale(0.55,1)" font-size="14.5" text-anchor="middle" dominant-baseline="central" stroke="#111" stroke-width="0.45" >300°</text>
<text transform="translate(118.0,916.0) scale(0.55,1)" font-size="14.5" text-anchor="middle" dominant-baseline="central" stroke="#111" stroke-width="0.45" >315°</text>
<text transform="translate(367.8,924.8) scale(0.6,1)" font-size="14.5" text-anchor="middle" dominant-baseline="central" stroke="#111" stroke-width="0.45" >m</text>
<text transform="translate(327.0,999.5) scale(0.6,1)" font-size="14.5" text-anchor="middle" dominant-baseline="central" stroke="#111" stroke-width="0.45" >c</text>
<text transform="translate(390.7,1022.0) scale(0.6,1)" font-size="14.5" text-anchor="middle" dominant-baseline="central" stroke="#111" stroke-width="0.45" >e</text>
<text transform="translate(164.5,1019.0) scale(0.6,1)" font-size="14.5" text-anchor="middle" dominant-baseline="central" stroke="#111" stroke-width="0.45" >h1</text>
<text transform="translate(87.0,1046.0) scale(0.6,1)" font-size="14.5" text-anchor="middle" dominant-baseline="central" stroke="#111" stroke-width="0.45" >b 3</text>
<text transform="translate(478.6,1046.0) scale(0.6,1)" font-size="14.5" text-anchor="middle" dominant-baseline="central" stroke="#111" stroke-width="0.45" >b 2</text>
<text transform="translate(250.7,1013.0) scale(0.6,1)" font-size="14.5" text-anchor="middle" dominant-baseline="central" stroke="#111" stroke-width="0.45" >(b 1)</text>
<text transform="translate(276.0,1040.0) scale(0.6,1)" font-size="14.5" text-anchor="middle" dominant-baseline="central" stroke="#111" stroke-width="0.45" >(a)d</text>
<text transform="translate(175.5,1124.8) scale(0.6,1)" font-size="14.5" text-anchor="middle" dominant-baseline="central" stroke="#111" stroke-width="0.45" >f 2</text>
<text transform="translate(383.0,1123.0) scale(0.6,1)" font-size="14.5" text-anchor="middle" dominant-baseline="central" stroke="#111" stroke-width="0.45" >f 1</text>
<text transform="translate(253.0,1190.8) scale(0.6,1)" font-size="14.5" text-anchor="middle" dominant-baseline="central" stroke="#111" stroke-width="0.45" >h 2</text>
<text transform="translate(312.4,1189.0) scale(0.6,1)" font-size="14.5" text-anchor="middle" dominant-baseline="central" stroke="#111" stroke-width="0.45" >g</text>
<text transform="translate(291.2,1146.0) scale(0.6,1)" font-size="14.5" text-anchor="middle" dominant-baseline="central" stroke="#111" stroke-width="0.45" >(k)</text>

</svg>
<div class="c" style="left:541.3px;top:108.0px;width:143.7px;height:37.6px;background:#1f4e9f;color:#fff;font-size:14.5px;"><span><span class="z" style="font-size:14.3px">项目名称</span></span></div>
<div class="c" style="left:686.8px;top:108.0px;width:136.4px;height:37.6px;background:#1f4e9f;color:#fff;font-size:14.5px;"><span><span class="z" style="font-size:14.3px">内筒</span></span></div>
<div class="c" style="left:825.2px;top:108.0px;width:148.1px;height:37.6px;background:#1f4e9f;color:#fff;font-size:14.5px;"><span><span class="z" style="font-size:14.3px">夹套</span></span></div>
<div class="c" style="left:541.3px;top:147.0px;width:143.7px;height:37.7px;background:#ddf0f9;color:#333333;font-size:14.5px;"><span><span class="z">全容积</span> m3</span></div>
<div class="c" style="left:686.8px;top:147.0px;width:136.4px;height:37.7px;background:#e6e6e6;color:#333333;font-size:14.5px;"><span>2.1</span></div>
<div class="c" style="left:825.2px;top:147.0px;width:148.1px;height:37.7px;background:#e6e6e6;color:#333333;font-size:14.5px;"><span>0.43</span></div>
<div class="c" style="left:541.3px;top:185.9px;width:143.7px;height:37.7px;background:#ddf0f9;color:#333333;font-size:14.5px;"><span><span class="z">设计温度</span> <span class="z">℃</span></span></div>
<div class="c" style="left:686.8px;top:185.9px;width:136.4px;height:37.7px;background:#e6e6e6;color:#333333;font-size:14.5px;"><span>200</span></div>
<div class="c" style="left:825.2px;top:185.9px;width:148.1px;height:37.7px;background:#e6e6e6;color:#333333;font-size:14.5px;"><span>200</span></div>
<div class="c" style="left:541.3px;top:224.9px;width:143.7px;height:37.7px;background:#ddf0f9;color:#333333;font-size:14.5px;"><span><span class="z">设计压力</span> MPa</span></div>
<div class="c" style="left:686.8px;top:224.9px;width:136.4px;height:37.7px;background:#e6e6e6;color:#333333;font-size:14.5px;"><span>0.6</span></div>
<div class="c" style="left:825.2px;top:224.9px;width:148.1px;height:37.7px;background:#e6e6e6;color:#333333;font-size:14.5px;"><span>0.6</span></div>
<div class="c" style="left:541.3px;top:263.9px;width:143.7px;height:37.6px;background:#ddf0f9;color:#333333;font-size:14.5px;"><span><span class="z">夹套换热面积</span> m<sup>3</sup></span></div>
<div class="c" style="left:686.8px;top:263.9px;width:286.5px;height:37.6px;background:#e6e6e6;color:#333333;font-size:14.5px;"><span>5.34</span></div>
<div class="c" style="left:541.3px;top:302.8px;width:143.7px;height:37.6px;background:#ddf0f9;color:#333333;font-size:14.5px;"><span><span class="z">减速机型号及功率</span> KW</span></div>
<div class="c" style="left:686.8px;top:302.8px;width:286.5px;height:37.6px;background:#e6e6e6;color:#333333;font-size:14.5px;"><span>BLD4–3–I</span></div>
<div class="c" style="left:541.3px;top:341.8px;width:143.7px;height:37.6px;background:#ddf0f9;color:#333333;font-size:14.5px;"><span><span class="z">搅拌类型及转速</span> r/min</span></div>
<div class="c" style="left:686.8px;top:341.8px;width:286.5px;height:37.6px;background:#e6e6e6;color:#333333;font-size:14.5px;"><span><span class="z" style="font-size:14.4px">锚框型：</span>63~85<span class="z" style="font-size:14.4px">；叶桨型：</span>85~130</span></div>
<div class="c" style="left:541.3px;top:380.7px;width:143.7px;height:37.6px;background:#ddf0f9;color:#333333;font-size:14.5px;"><span><span class="z">参考重量</span> Kg</span></div>
<div class="c" style="left:686.8px;top:380.7px;width:286.5px;height:37.6px;background:#e6e6e6;color:#333333;font-size:14.5px;"><span>1600<span class="pl">(</span><span class="z" style="font-size:14.4px">不含传动装置</span><span class="pr">)</span></span></div>
<div class="c" style="left:541.3px;top:419.7px;width:143.7px;height:37.6px;background:#ddf0f9;color:#333333;font-size:14.5px;"><span><span class="z">搪玻璃层厚度</span></span></div>
<div class="c" style="left:686.8px;top:419.7px;width:286.5px;height:37.6px;background:#e6e6e6;color:#333333;font-size:14.5px;"><span>0.8~2.0mm</span></div>
<div class="c" style="left:541.3px;top:458.6px;width:143.7px;height:37.6px;background:#ddf0f9;color:#333333;font-size:14.5px;"><span><span class="z">搪玻璃层电火花试验</span></span></div>
<div class="c" style="left:686.8px;top:458.6px;width:286.5px;height:37.6px;background:#e6e6e6;color:#333333;font-size:14.5px;"><span>20Kv</span></div>
<div class="c" style="left:541.3px;top:497.6px;width:143.7px;height:37.7px;background:#ddf0f9;color:#333333;font-size:14.5px;"><span><span class="z">搪玻璃层耐温差急变性</span></span></div>
<div class="c" style="left:686.8px;top:497.6px;width:286.5px;height:37.7px;background:#e6e6e6;color:#333333;font-size:14.5px;"><span><span class="z" style="font-size:14.4px">冷冲击</span> 110<span class="z" style="font-size:14.4px">℃，热冲击</span> 120<span class="z" style="font-size:14.4px">℃</span></span></div>
<div class="c" style="left:541.3px;top:536.5px;width:143.7px;height:149.6px;background:#ddf0f9;color:#333333;font-size:14.5px;"><span><span class="z">搪玻璃适用介质</span></span></div>
<div style="position:absolute;left:686.8px;top:536.5px;width:286.5px;height:149.6px;background:#e6e6e6;"><div class="ml" style="top:28.6px"><span class="z" style="font-size:14.4px">除氢氟酸，浓磷酸</span><span class="pl">(</span><span class="z" style="font-size:14.4px">浓度</span><span class="ge">≧</span> 30%<span class="z" style="font-size:14.4px">，</span></div><div class="ml" style="top:46.9px">t <span class="ge">≧</span> 180<span class="z" style="font-size:14.4px">℃</span><span class="pr">)</span><span class="z" style="font-size:14.4px">，强碱</span><span class="pl">(</span>PH <span class="ge">≧</span> 12<span class="z" style="font-size:14.4px">，</span></div><div class="ml" style="top:65.2px">t <span class="ge">≧</span> 100<span class="z" style="font-size:14.4px">℃</span><span class="pr">)</span>,t <span class="ge">≧</span> 180<span class="z" style="font-size:14.4px">℃的稀硫酸，</span></div><div class="ml" style="top:83.5px">t <span class="ge">≧</span> 150<span class="z" style="font-size:14.4px">℃的硝酸外，其它在水溶液几乎全部</span></div><div class="ml" style="top:101.8px"><span class="z" style="font-size:14.4px">电离</span><span class="pl">(</span><span class="z" style="font-size:14.4px">不含氯离子</span><span class="pr">)</span><span class="z" style="font-size:14.4px">的介质。</span></div></div>
<div class="c" style="left:541.3px;top:687.5px;width:432.0px;height:37.3px;background:#1f4e9f;color:#fff;font-size:14.5px;"><span><span class="z" style="font-size:14.3px">管</span>&nbsp;&nbsp;&nbsp;&nbsp;<span class="z" style="font-size:14.3px">口</span>&nbsp;&nbsp;&nbsp;&nbsp;<span class="z" style="font-size:14.3px">表</span></span></div>
<div class="c" style="left:541.3px;top:726.3px;width:71.5px;height:37.4px;background:#1f4e9f;color:#fff;font-size:14.5px;"><span><span class="z" style="font-size:14.3px">符号</span></span></div>
<div class="c" style="left:614.2px;top:726.3px;width:70.8px;height:37.4px;background:#1f4e9f;color:#fff;font-size:14.5px;"><span><span class="z" style="font-size:14.3px">公称尺寸</span></span></div>
<div class="c" style="left:686.5px;top:726.3px;width:70.8px;height:37.4px;background:#1f4e9f;color:#fff;font-size:14.5px;"><span><span class="z" style="font-size:14.3px">公称压力</span></span></div>
<div class="c" style="left:759.0px;top:726.3px;width:126.3px;height:37.4px;background:#1f4e9f;color:#fff;font-size:14.5px;"><span><span class="z" style="font-size:14.3px">连接尺寸标准</span></span></div>
<div class="c" style="left:887.0px;top:726.3px;width:86.3px;height:37.4px;background:#1f4e9f;color:#fff;font-size:14.5px;"><span><span class="z" style="font-size:14.3px">用途或名称</span></span></div>
<div class="c" style="left:541.3px;top:765.1px;width:71.5px;height:37.5px;background:#e6e6e6;color:#333333;font-size:14.5px;"><span>Q</span></div>
<div class="c" style="left:614.2px;top:765.1px;width:70.8px;height:37.5px;background:#e6e6e6;color:#333333;font-size:14.5px;"><span>A100</span></div>
<div class="c" style="left:686.5px;top:765.1px;width:70.8px;height:37.5px;background:#e6e6e6;color:#333333;font-size:14.5px;"><span>PN10</span></div>
<div class="c" style="left:759.0px;top:765.1px;width:126.3px;height:37.5px;background:#e6e6e6;color:#333333;font-size:14.5px;"><span>HG/T2105–2017</span></div>
<div class="c" style="left:887.0px;top:765.1px;width:86.3px;height:37.5px;background:#e6e6e6;color:#333333;font-size:14.5px;"><span><span class="z">放料口</span></span></div>
<div class="c" style="left:541.3px;top:804.1px;width:71.5px;height:37.5px;background:#e6e6e6;color:#333333;font-size:14.5px;"><span>b1~3</span></div>
<div class="c" style="left:614.2px;top:804.1px;width:70.8px;height:37.5px;background:#e6e6e6;color:#333333;font-size:14.5px;"><span>40</span></div>
<div class="c" style="left:686.5px;top:804.1px;width:70.8px;height:37.5px;background:#e6e6e6;color:#333333;font-size:14.5px;"><span>PN10</span></div>
<div class="c" style="left:759.0px;top:804.1px;width:126.3px;height:37.5px;background:#e6e6e6;color:#333333;font-size:14.5px;"><span>HG/T20592–2009</span></div>
<div class="c" style="left:887.0px;top:804.1px;width:86.3px;height:37.5px;background:#e6e6e6;color:#333333;font-size:14.5px;"><span><span class="z">夹套进出口</span></span></div>
<div class="c" style="left:541.3px;top:843.0px;width:71.5px;height:37.5px;background:#e6e6e6;color:#333333;font-size:14.5px;"><span>c</span></div>
<div class="c" style="left:614.2px;top:843.0px;width:70.8px;height:37.5px;background:#e6e6e6;color:#333333;font-size:14.5px;"><span>300X400</span></div>
<div class="c" style="left:686.5px;top:843.0px;width:70.8px;height:37.5px;background:#e6e6e6;color:#333333;font-size:14.5px;"><span>PN10</span></div>
<div class="c" style="left:759.0px;top:843.0px;width:126.3px;height:37.5px;background:#e6e6e6;color:#333333;font-size:14.5px;"><span>/</span></div>
<div class="c" style="left:887.0px;top:843.0px;width:86.3px;height:37.5px;background:#e6e6e6;color:#333333;font-size:14.5px;"><span><span class="z">人</span> <span class="z">孔</span></span></div>
<div class="c" style="left:541.3px;top:882.0px;width:71.5px;height:37.5px;background:#e6e6e6;color:#333333;font-size:14.5px;"><span>d</span></div>
<div class="c" style="left:614.2px;top:882.0px;width:70.8px;height:37.5px;background:#e6e6e6;color:#333333;font-size:14.5px;"><span>A125</span></div>
<div class="c" style="left:686.5px;top:882.0px;width:70.8px;height:37.5px;background:#e6e6e6;color:#333333;font-size:14.5px;"><span>PN10</span></div>
<div class="c" style="left:759.0px;top:882.0px;width:126.3px;height:37.5px;background:#e6e6e6;color:#333333;font-size:14.5px;"><span>HG/T2105–2017</span></div>
<div class="c" style="left:887.0px;top:882.0px;width:86.3px;height:37.5px;background:#e6e6e6;color:#333333;font-size:14.5px;"><span><span class="z">搅拌轴口</span></span></div>
<div class="c" style="left:541.3px;top:920.9px;width:71.5px;height:37.5px;background:#e6e6e6;color:#333333;font-size:14.5px;"><span>e</span></div>
<div class="c" style="left:614.2px;top:920.9px;width:70.8px;height:37.5px;background:#e6e6e6;color:#333333;font-size:14.5px;"><span>B100</span></div>
<div class="c" style="left:686.5px;top:920.9px;width:70.8px;height:37.5px;background:#e6e6e6;color:#333333;font-size:14.5px;"><span>PN10</span></div>
<div class="c" style="left:759.0px;top:920.9px;width:126.3px;height:37.5px;background:#e6e6e6;color:#333333;font-size:14.5px;"><span>HG/T2105–2017</span></div>
<div class="c" style="left:887.0px;top:920.9px;width:86.3px;height:37.5px;background:#e6e6e6;color:#333333;font-size:14.5px;"><span><span class="z">温度计口</span></span></div>
<div class="c" style="left:541.3px;top:959.9px;width:71.5px;height:37.5px;background:#e6e6e6;color:#333333;font-size:14.5px;"><span>f1~2</span></div>
<div class="c" style="left:614.2px;top:959.9px;width:70.8px;height:37.5px;background:#e6e6e6;color:#333333;font-size:14.5px;"><span>B100</span></div>
<div class="c" style="left:686.5px;top:959.9px;width:70.8px;height:37.5px;background:#e6e6e6;color:#333333;font-size:14.5px;"><span>PN10</span></div>
<div class="c" style="left:759.0px;top:959.9px;width:126.3px;height:37.5px;background:#e6e6e6;color:#333333;font-size:14.5px;"><span>HG/T2105–2017</span></div>
<div class="c" style="left:887.0px;top:959.9px;width:86.3px;height:37.5px;background:#e6e6e6;color:#333333;font-size:14.5px;"><span><span class="z">备用口</span></span></div>
<div class="c" style="left:541.3px;top:998.8px;width:71.5px;height:37.6px;background:#e6e6e6;color:#333333;font-size:14.5px;"><span>g</span></div>
<div class="c" style="left:614.2px;top:998.8px;width:70.8px;height:37.6px;background:#e6e6e6;color:#333333;font-size:14.5px;"><span>A100</span></div>
<div class="c" style="left:686.5px;top:998.8px;width:70.8px;height:37.6px;background:#e6e6e6;color:#333333;font-size:14.5px;"><span>PN10</span></div>
<div class="c" style="left:759.0px;top:998.8px;width:126.3px;height:37.6px;background:#e6e6e6;color:#333333;font-size:14.5px;"><span>/</span></div>
<div class="c" style="left:887.0px;top:998.8px;width:86.3px;height:37.6px;background:#e6e6e6;color:#333333;font-size:14.5px;"><span><span class="z">视镜口</span></span></div>
<div class="c" style="left:541.3px;top:1037.8px;width:71.5px;height:37.5px;background:#e6e6e6;color:#333333;font-size:14.5px;"><span>h1–2</span></div>
<div class="c" style="left:614.2px;top:1037.8px;width:70.8px;height:37.5px;background:#e6e6e6;color:#333333;font-size:14.5px;"><span>B125</span></div>
<div class="c" style="left:686.5px;top:1037.8px;width:70.8px;height:37.5px;background:#e6e6e6;color:#333333;font-size:14.5px;"><span>PN10</span></div>
<div class="c" style="left:759.0px;top:1037.8px;width:126.3px;height:37.5px;background:#e6e6e6;color:#333333;font-size:14.5px;"><span>HG/T2105–2017</span></div>
<div class="c" style="left:887.0px;top:1037.8px;width:86.3px;height:37.5px;background:#e6e6e6;color:#333333;font-size:14.5px;"><span><span class="z">备用口</span></span></div>
<div class="c" style="left:541.3px;top:1076.7px;width:71.5px;height:37.5px;background:#e6e6e6;color:#333333;font-size:14.5px;"><span>k</span></div>
<div class="c" style="left:614.2px;top:1076.7px;width:70.8px;height:37.5px;background:#e6e6e6;color:#333333;font-size:14.5px;"><span>50</span></div>
<div class="c" style="left:686.5px;top:1076.7px;width:70.8px;height:37.5px;background:#e6e6e6;color:#333333;font-size:14.5px;"><span>PN10</span></div>
<div class="c" style="left:759.0px;top:1076.7px;width:126.3px;height:37.5px;background:#e6e6e6;color:#333333;font-size:14.5px;"><span>HG/T20592–2009</span></div>
<div class="c" style="left:887.0px;top:1076.7px;width:86.3px;height:37.5px;background:#e6e6e6;color:#333333;font-size:14.5px;"><span><span class="z">夹套进出口</span></span></div>
<div class="c" style="left:541.3px;top:1115.7px;width:71.5px;height:37.5px;background:#e6e6e6;color:#333333;font-size:14.5px;"><span>m</span></div>
<div class="c" style="left:614.2px;top:1115.7px;width:70.8px;height:37.5px;background:#e6e6e6;color:#333333;font-size:14.5px;"><span>15</span></div>
<div class="c" style="left:686.5px;top:1115.7px;width:70.8px;height:37.5px;background:#e6e6e6;color:#333333;font-size:14.5px;"><span>/</span></div>
<div class="c" style="left:759.0px;top:1115.7px;width:126.3px;height:37.5px;background:#e6e6e6;color:#333333;font-size:14.5px;"><span>G1/2</span></div>
<div class="c" style="left:887.0px;top:1115.7px;width:86.3px;height:37.5px;background:#e6e6e6;color:#333333;font-size:14.5px;"><span><span class="z">放气口</span></span></div>

</body></html>
